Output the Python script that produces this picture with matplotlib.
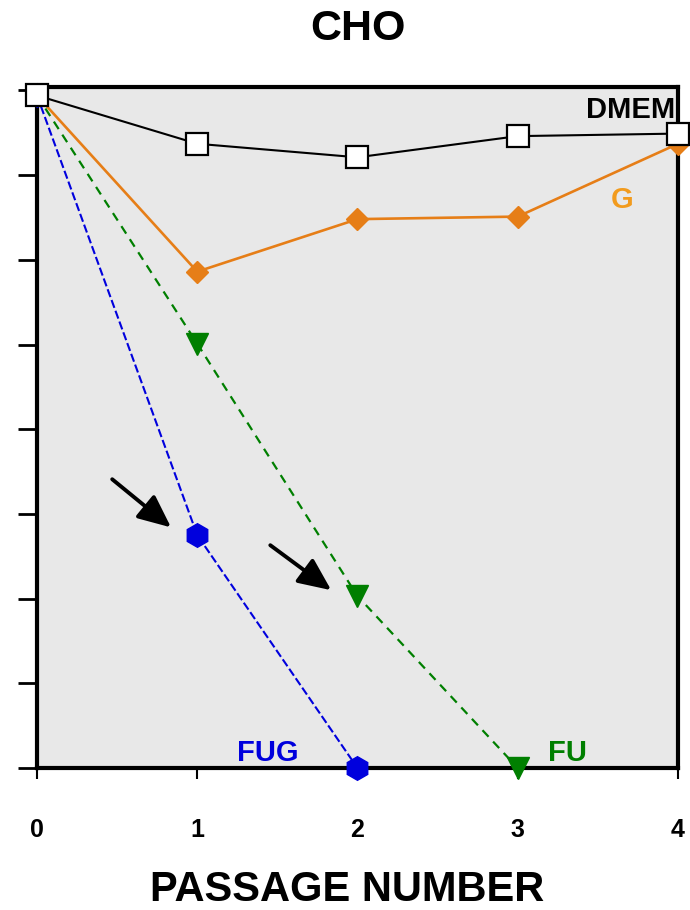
import numpy as np
import matplotlib
matplotlib.use("Agg")
from matplotlib import pyplot as plt

plt.rcParams['font.family'] = ['Liberation Sans', 'DejaVu Sans']

passage = [0, 1, 2, 3, 4]
dmem = [7.94, 7.37, 7.21, 7.46, 7.49]
g = [7.94, 5.86, 6.48, 6.51, 7.37]
fu_x = [0, 1, 2, 3]
fu = [7.94, 5.01, 2.03, 0.0]
fug_x = [0, 1, 2]
fug = [7.94, 2.75, 0.0]

fig = plt.figure(figsize=(6.9, 9.1), dpi=100)
ax = fig.add_axes([0.0536, 0.156, 0.929, 0.7484])
ax.set_facecolor('#e8e8e8')

ax.plot(fug_x, fug, color='#0000dd', lw=1.5, ls=(0, (4, 1.5)), marker='h',
        ms=17, mfc='#0000dd', mec='#0000dd', clip_on=False, zorder=3)
ax.plot(fu_x, fu, color='#007f00', lw=1.6, ls=(0, (4, 3)), marker='v',
        ms=16, mfc='#007f00', mec='#007f00', clip_on=False, zorder=3)
ax.plot(passage, g, color='#e67e17', lw=1.9, marker='D',
        ms=11, mfc='#e67e17', mec='#e67e17', clip_on=False, zorder=4)
ax.plot(passage, dmem, color='black', lw=1.5, marker='s',
        ms=16, mfc='white', mec='black', mew=1.6, clip_on=False, zorder=5)

# arrows pointing at the passage-1 FUG and passage-2 FU points
arrow = dict(arrowstyle='-|>,head_length=2.0,head_width=0.9', color='black', lw=2.8)
ax.annotate('', xy=(0.85, 2.82), xytext=(0.456, 3.43), arrowprops=arrow)
ax.annotate('', xy=(1.85, 2.08), xytext=(1.442, 2.65), arrowprops=arrow)

ax.text(3.985, 7.77, 'DMEM', fontsize=21, fontweight='bold', ha='right', va='center', color='black')
ax.text(3.65, 6.71, 'G', fontsize=21, fontweight='bold', ha='center', va='center', color='#f29b1d')
ax.text(1.44, 0.18, 'FUG', fontsize=21, fontweight='bold', ha='center', va='center', color='#0000dd')
ax.text(3.31, 0.18, 'FU', fontsize=21, fontweight='bold', ha='center', va='center', color='#007f00')

ax.set_xlim(0, 4)
ax.set_ylim(0, 8.04)
ax.set_xticks(passage)
ax.set_xticklabels([str(p) for p in passage], fontsize=18, fontweight='bold')
ax.set_yticks(np.arange(0, 9))
ax.set_yticklabels([])
ax.tick_params(axis='x', direction='out', length=8, width=1.5, pad=28)
ax.tick_params(axis='y', direction='out', length=14, width=2)
for s in ax.spines.values():
    s.set_linewidth(3)

ax.set_xlabel('PASSAGE NUMBER', fontsize=30, fontweight='bold', va='center')
ax.xaxis.set_label_coords(0.484, -0.179)
fig.suptitle('CHO', fontsize=31, fontweight='bold', x=0.519, y=0.99)

fig.savefig('out.png', dpi=100)
